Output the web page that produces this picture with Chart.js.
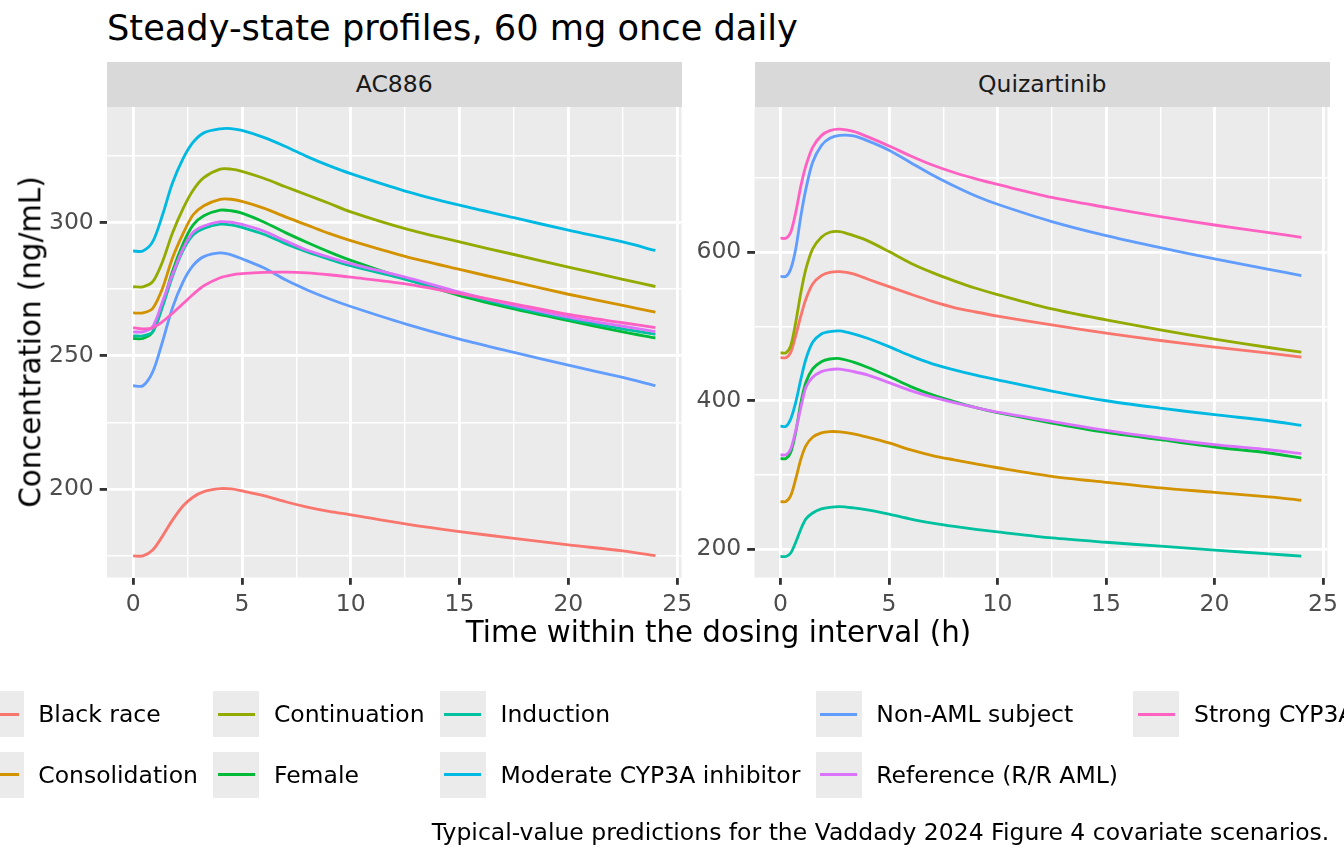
<!DOCTYPE html>
<html lang="en">
  <head>
    <meta charset="UTF-8" />
    <title>Steady-state profiles, 60 mg once daily</title>
    <script src="https://cdn.jsdelivr.net/npm/chart.js"></script>
    <style>
      html, body { margin: 0; padding: 0; background: #fff; overflow: hidden; }
      body { width: 1344px; height: 864px; position: relative; font-family: "DejaVu Sans", sans-serif; }
      canvas { position: absolute; left: 0; top: 0; }
      .txt { position: absolute; white-space: nowrap; line-height: 1; }
      .strip { position: absolute; top: 62.3px; height: 44.4px; background: #D9D9D9; color: #1A1A1A;
               font-size: 23.5px; display: flex; align-items: center; justify-content: center; }
      #legend { position: absolute; top: 691px; left: 718.5px; transform: translateX(-50%);
                display: flex; gap: 15.3px; }
      .lcol { display: flex; flex-direction: column; gap: 14.7px; }
      .litem { display: flex; align-items: center; height: 46px; font-size: 23.5px; white-space: nowrap; }
      .lkey { width: 46px; height: 46px; background: #EBEBEB; position: relative; margin-right: 14.7px; flex: none; }
      .lkey span { position: absolute; left: 4.6px; right: 4.6px; top: 21.5px; height: 3px; }
    </style>
  </head>
  <body>
    <div class="txt" style="left:107px; top:10px; font-size:35.2px; color:#000;">Steady-state profiles, 60 mg once daily</div>
    <div class="strip" style="left:107px; width:574.5px;">AC886</div>
    <div class="strip" style="left:754.5px; width:575.5px;">Quizartinib</div>
    <canvas id="ac886-chart" width="1344" height="864"></canvas>
    <canvas id="quiz-chart" width="1344" height="864"></canvas>
    <div class="txt" style="left:31px; top:342px; font-size:29.3px; transform:translate(-50%,-50%) rotate(-90deg);">Concentration (ng/mL)</div>
    <div class="txt" style="left:718.5px; top:618px; font-size:29.3px; transform:translateX(-50%);">Time within the dosing interval (h)</div>
    <div id="legend"></div>
    <div class="txt" style="right:14.7px; top:821px; font-size:23.5px;">Typical-value predictions for the Vaddady 2024 Figure 4 covariate scenarios.</div>

    <script>
      // scenarios in legend order
      const scenarios = [
        "Black race", "Consolidation", "Continuation", "Female", "Induction",
        "Moderate CYP3A inhibitor", "Non-AML subject", "Reference (R/R AML)", "Strong CYP3A inhibitor",
      ];
      const colors = ["#F8766D", "#D39200", "#93AA00", "#00BA38", "#00C19F", "#00B9E3", "#619CFF", "#DB72FB", "#FF61C3"];

      // AC886 (hours)
      const acTime = [0, 0.45, 0.9, 1.35, 1.8, 2.3, 2.75, 3.25, 4, 4.5, 5, 6, 7, 8, 9, 10, 12.5, 15, 17.5, 20, 22.5, 24];
      const acBlackRace = [175.0, 175.0, 177.2, 182.4, 188.3, 193.8, 197.0, 199.1, 200.2, 200.1, 199.4, 197.6, 195.3, 193.3, 191.7, 190.4, 187.0, 184.1, 181.6, 179.1, 176.9, 175.1];
      const acConsolidation = [266.1, 266.1, 267.8, 275.3, 286.5, 295.9, 302.8, 306.3, 308.7, 308.7, 307.9, 305.4, 302.1, 299.0, 295.9, 293.2, 287.3, 282.4, 277.7, 273.1, 268.9, 266.4];
      const acContinuation = [275.9, 275.9, 277.8, 285.3, 295.9, 305.3, 312.0, 316.8, 320.0, 320.0, 319.2, 316.6, 313.4, 310.3, 307.2, 304.0, 297.7, 292.7, 288.0, 283.3, 278.7, 276.0];
      const acFemale = [256.5, 256.5, 259.0, 269.0, 281.5, 292.1, 299.0, 302.5, 304.6, 304.4, 303.5, 300.2, 296.2, 292.5, 289.0, 285.8, 278.9, 272.6, 267.6, 263.2, 259.0, 256.7];
      const acInduction = [257.5, 257.5, 259.0, 268.4, 279.6, 289.6, 295.3, 297.8, 299.4, 299.1, 298.2, 295.6, 292.1, 289.0, 286.3, 283.8, 278.7, 273.3, 268.3, 263.9, 260.1, 258.1];
      const acModerate = [289.3, 289.3, 292.8, 302.8, 314.6, 324.0, 330.0, 333.6, 335.1, 335.2, 334.5, 331.9, 328.5, 324.7, 321.3, 318.3, 311.8, 306.5, 301.8, 297.1, 292.7, 289.5];
      const acNonAml = [238.8, 238.8, 244.0, 255.3, 267.8, 277.8, 283.8, 287.2, 288.6, 287.9, 286.4, 283.0, 278.5, 274.7, 271.4, 268.5, 262.0, 256.3, 251.3, 246.5, 241.9, 238.8];
      const acReference = [259.0, 259.0, 260.9, 270.3, 280.3, 290.3, 296.3, 298.7, 300.3, 300.1, 299.3, 296.8, 293.1, 289.6, 287.0, 284.6, 279.5, 273.9, 268.9, 264.5, 261.1, 259.1];
      const acStrong = [260.6, 260.1, 260.5, 262.8, 265.9, 269.6, 273.0, 276.3, 279.3, 280.3, 280.8, 281.3, 281.4, 281.1, 280.4, 279.5, 277.0, 273.3, 269.5, 265.5, 262.4, 260.6];

      // Quizartinib (hours)
      const quizTime = [0, 0.25, 0.47, 0.7, 0.94, 1.17, 1.48, 1.88, 2.27, 2.73, 3.36, 4, 5, 6, 7, 8, 9, 10, 12.5, 15, 17.5, 20, 22.5, 24];
      const qzBlackRace = [458.0, 458.0, 465.2, 487.7, 514.6, 537.1, 557.3, 568.6, 573.0, 573.9, 570.8, 564.0, 553.8, 543.5, 533.8, 525.5, 519.5, 514.0, 502.2, 491.0, 481.1, 472.1, 464.1, 458.7];
      const qzConsolidation = [264.0, 264.0, 272.1, 294.5, 321.5, 339.4, 350.7, 356.5, 358.3, 358.0, 355.2, 350.8, 343.0, 333.7, 326.1, 320.3, 314.9, 309.6, 298.1, 290.0, 282.4, 276.5, 270.3, 265.8];
      const qzContinuation = [464.5, 464.5, 474.2, 505.7, 546.1, 577.5, 604.5, 620.2, 627.0, 627.9, 622.5, 615.7, 600.9, 585.2, 572.5, 561.5, 551.5, 543.0, 523.7, 508.9, 495.5, 482.9, 471.7, 465.4];
      const qzFemale = [322.0, 322.0, 330.5, 357.5, 397.8, 424.8, 442.8, 452.6, 456.2, 456.8, 452.0, 445.1, 432.5, 419.0, 407.8, 398.8, 390.7, 384.0, 369.9, 357.3, 347.4, 337.6, 329.5, 322.7];
      const qzInduction = [190.0, 190.0, 194.8, 209.2, 227.1, 240.6, 248.7, 254.1, 256.3, 257.2, 255.5, 252.9, 247.1, 240.4, 235.0, 230.5, 226.6, 223.2, 215.1, 209.2, 203.9, 198.5, 193.6, 190.4];
      const qzModerate = [365.5, 365.5, 375.4, 397.8, 429.3, 456.2, 478.7, 489.9, 493.1, 494.0, 490.0, 484.1, 472.9, 460.3, 449.6, 441.5, 434.3, 428.0, 413.0, 399.9, 390.0, 381.1, 373.0, 366.7];
      const qzNonAml = [567.5, 567.5, 577.5, 604.5, 649.4, 685.4, 721.3, 743.8, 753.6, 757.5, 756.8, 750.4, 737.5, 720.8, 704.2, 689.4, 675.9, 664.7, 641.3, 622.4, 606.3, 591.0, 577.1, 568.6];
      const qzReference = [327.0, 327.0, 335.0, 359.7, 391.1, 418.1, 431.5, 439.2, 441.9, 442.5, 439.2, 434.8, 424.4, 413.6, 404.7, 397.5, 390.7, 384.5, 372.1, 360.0, 349.7, 340.7, 333.9, 328.6];
      const qzStrong = [619.0, 619.0, 627.0, 653.9, 689.8, 716.8, 741.5, 757.2, 764.0, 766.0, 763.0, 755.8, 743.2, 729.8, 717.6, 707.5, 699.0, 691.5, 674.0, 660.6, 648.0, 636.8, 626.5, 620.2];

      // ticks
      const xMajor = [0, 5, 10, 15, 20, 25];
      const xMinor = [2.5, 7.5, 12.5, 17.5, 22.5];
      const acYMajor = [200, 250, 300];
      const acYMinor = [175, 225, 275, 325];
      const qzYMajor = [200, 400, 600];
      const qzYMinor = [300, 500, 700];

      Chart.defaults.font.family = "'DejaVu Sans', sans-serif";

      const panelBg = {
        id: "panelBg",
        beforeDraw(chart) {
          const { ctx, chartArea: a } = chart;
          ctx.save();
          ctx.fillStyle = "#EBEBEB";
          ctx.fillRect(a.left, a.top, a.right - a.left, a.bottom - a.top);
          ctx.restore();
        },
      };

      function axis(major, minor, min, max, isX) {
        const all = major.concat(minor).sort((a, b) => a - b);
        const isMajor = (c) => c.tick && major.includes(c.tick.value);
        return {
          type: "linear",
          min: min,
          max: max,
          afterBuildTicks: (s) => { s.ticks = all.map((v) => ({ value: v })); },
          afterFit: (s) => { if (isX) s.height = 50; else s.width = 60; },
          border: { display: false },
          grid: {
            color: "#FFFFFF",
            lineWidth: (c) => (isMajor(c) ? 2.84 : 1.42),
            tickColor: (c) => (isMajor(c) ? "#333333" : "rgba(0,0,0,0)"),
            tickWidth: 2.84,
            tickLength: 7.3,
          },
          ticks: {
            autoSkip: false,
            maxRotation: 0,
            padding: 5.9,
            color: "#4D4D4D",
            font: { size: 23.5 },
            callback: (v) => (major.includes(v) ? String(v) : ""),
          },
        };
      }

      function makeChart(id, time, series, yMajor, yMinor, yMin, yMax, left, right) {
        const n = series.length;
        new Chart(document.getElementById(id), {
          type: "line",
          data: {
            datasets: series.map((vals, i) => ({
              label: scenarios[i],
              data: vals.map((v, k) => ({ x: time[k], y: v })),
              borderColor: colors[i],
              borderWidth: 2.84,
              pointRadius: 0,
              fill: false,
              tension: 0.3,
              order: n - 1 - i,
            })),
          },
          options: {
            responsive: false,
            animation: false,
            devicePixelRatio: 1,
            layout: { padding: { left: left - 60, right: 1344 - right, top: 107, bottom: 864 - 577.5 - 50 } },
            plugins: { legend: { display: false }, tooltip: { enabled: false } },
            scales: {
              x: axis(xMajor, xMinor, -1.2, 25.2, true),
              y: axis(yMajor, yMinor, yMin, yMax, false),
            },
          },
          plugins: [panelBg],
        });
      }

      makeChart("ac886-chart", acTime,
        [acBlackRace, acConsolidation, acContinuation, acFemale, acInduction, acModerate, acNonAml, acReference, acStrong],
        acYMajor, acYMinor, 166.9, 343.3, 107, 681.5);
      makeChart("quiz-chart", quizTime,
        [qzBlackRace, qzConsolidation, qzContinuation, qzFemale, qzInduction, qzModerate, qzNonAml, qzReference, qzStrong],
        qzYMajor, qzYMinor, 161.7, 795.8, 754.5, 1330);

      // legend: two rows, filled column by column
      const legend = document.getElementById("legend");
      for (let c = 0; c < Math.ceil(scenarios.length / 2); c++) {
        const col = document.createElement("div");
        col.className = "lcol";
        [2 * c, 2 * c + 1].forEach((i) => {
          if (i >= scenarios.length) return;
          const item = document.createElement("div");
          item.className = "litem";
          item.innerHTML = '<div class="lkey"><span style="background:' + colors[i] + '"></span></div>';
          item.appendChild(document.createTextNode(scenarios[i]));
          col.appendChild(item);
        });
        legend.appendChild(col);
      }
    </script>
  </body>
</html>
